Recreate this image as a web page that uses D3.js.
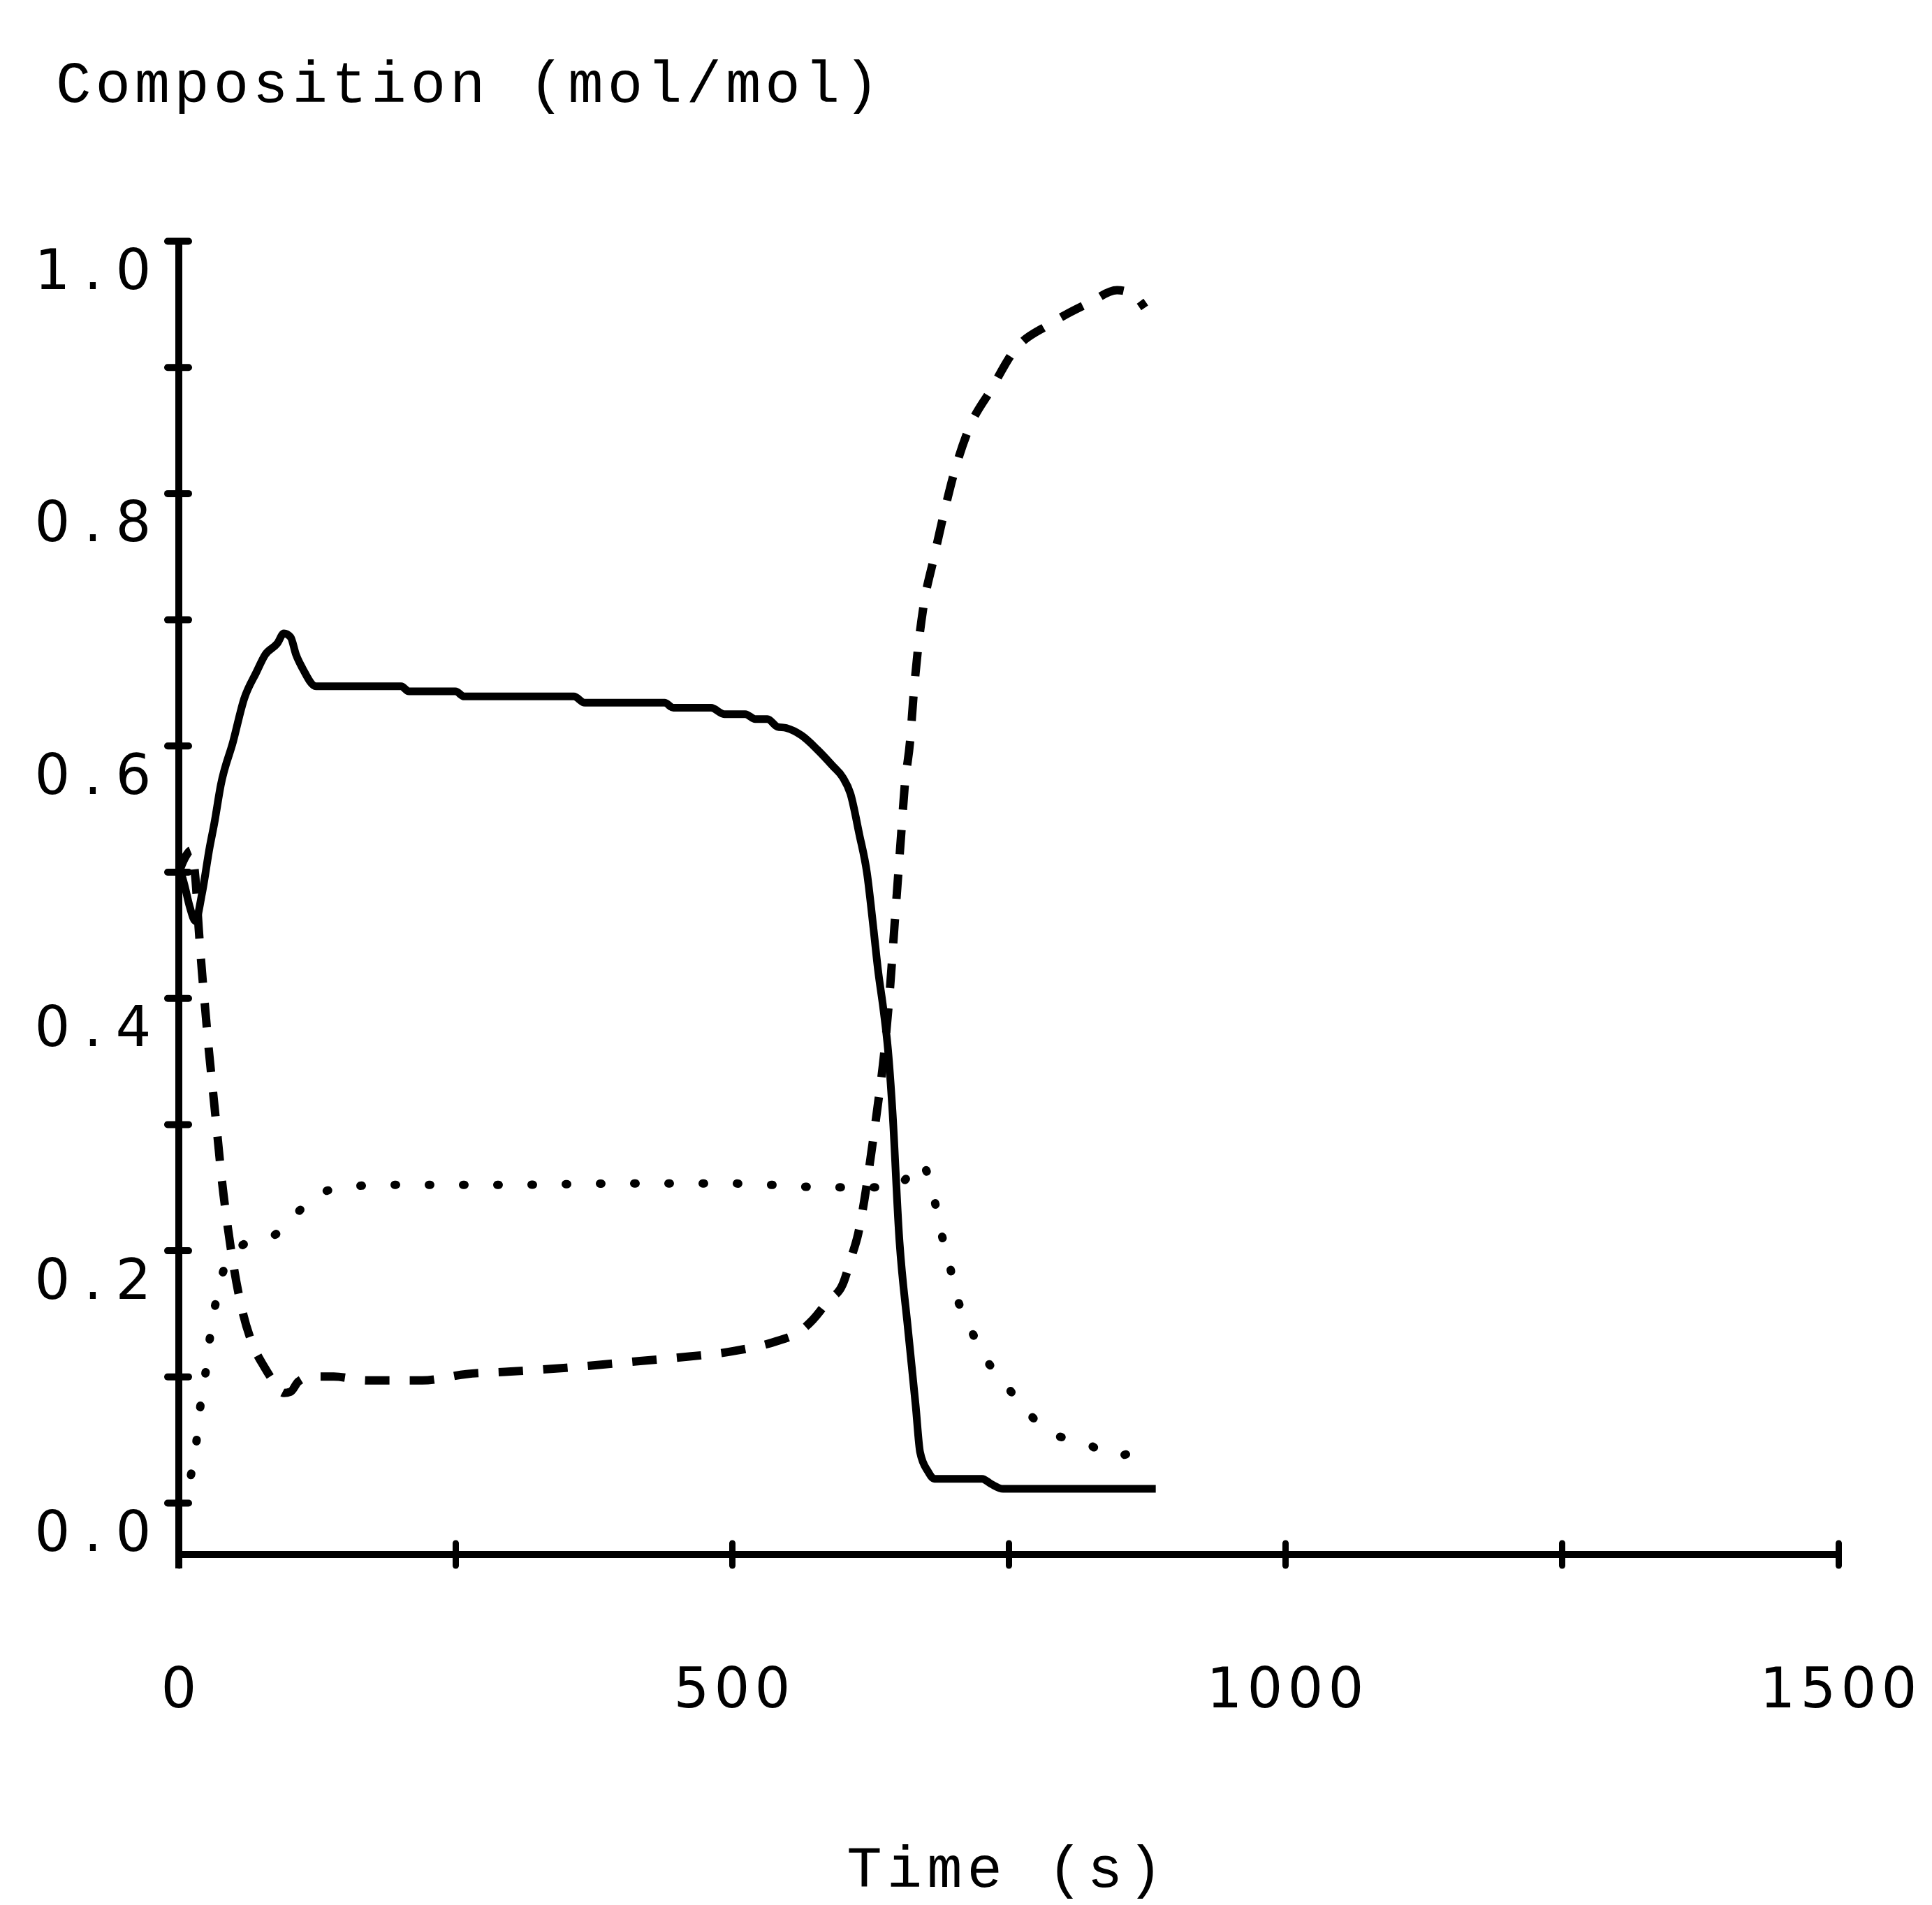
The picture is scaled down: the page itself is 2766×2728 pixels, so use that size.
<!DOCTYPE html>
<html>
<head>
<meta charset="utf-8">
<script src="https://cdn.jsdelivr.net/npm/d3@7/dist/d3.min.js"></script>
<style>
  html, body { margin: 0; padding: 0; background: #fff; }
  svg { display: block; }
  text { fill: #000; }
  .mono { font-family: "Liberation Mono", "DejaVu Sans Mono", monospace; }
  .num { font-family: "DejaVu Sans", "Liberation Sans", sans-serif; }
</style>
</head>
<body>
<svg id="chart" width="2766" height="2728"></svg>
<script>
// ---- Data ----
const yTicks = [0, 0.1, 0.2, 0.3, 0.4, 0.5, 0.6, 0.7, 0.8, 0.9, 1.0];
const yTickLabels = [0, 0.2, 0.4, 0.6, 0.8, 1.0];
const xTicks = [0, 250, 500, 750, 1000, 1250, 1500];
const xTickLabels = [0, 500, 1000, 1500];

// solid line
const solidT = [0, 5, 10, 15, 21, 28, 32, 38, 49, 59, 70, 78, 89, 95, 101, 106, 112, 124, 154, 201, 208, 250, 258, 357, 367, 439, 447, 481, 493, 512, 521, 532, 541, 549, 563, 577, 591, 600, 607, 615, 622, 628, 632, 637, 641, 645, 651, 659, 666, 670, 677, 683, 726, 734, 745, 883];
const solidV = [0.505, 0.49, 0.472, 0.461, 0.483, 0.52, 0.538, 0.569, 0.603, 0.637, 0.658, 0.672, 0.681, 0.689, 0.686, 0.672, 0.661, 0.647, 0.647, 0.647, 0.643, 0.643, 0.639, 0.639, 0.634, 0.634, 0.63, 0.63, 0.625, 0.625, 0.621, 0.621, 0.615, 0.614, 0.608, 0.597, 0.584, 0.575, 0.562, 0.53, 0.499, 0.454, 0.422, 0.39, 0.359, 0.311, 0.212, 0.138, 0.077, 0.04, 0.025, 0.019, 0.019, 0.015, 0.011, 0.011];

// dashed line
const dashedT = [0, 6, 11, 15, 18, 21, 24, 27, 31, 35, 39, 44, 50, 58, 67, 77, 85, 95, 101, 108, 120, 140, 170, 220, 260, 300, 350, 400, 450, 500, 540, 560, 573, 587, 600, 608, 614, 620, 626, 631, 638, 643, 647, 650, 653, 656, 661, 664, 668, 673, 682, 691, 701, 714, 734, 755, 787, 823, 848, 862, 873];
const dashedV = [0.50, 0.512, 0.517, 0.495, 0.455, 0.42, 0.39, 0.36, 0.325, 0.29, 0.255, 0.22, 0.185, 0.15, 0.125, 0.108, 0.097, 0.087, 0.088, 0.096, 0.1, 0.1, 0.097, 0.097, 0.102, 0.104, 0.107, 0.111, 0.115, 0.12, 0.128, 0.135, 0.145, 0.16, 0.173, 0.195, 0.213, 0.242, 0.278, 0.31, 0.36, 0.41, 0.459, 0.495, 0.531, 0.567, 0.604, 0.639, 0.676, 0.71, 0.747, 0.782, 0.817, 0.851, 0.882, 0.913, 0.934, 0.951, 0.961, 0.958, 0.947];

// dotted line
const dottedT = [11, 16, 19.4, 24, 28, 33, 40, 50, 59, 75, 88, 106, 130, 158, 200, 300, 400, 500, 588, 648, 662, 670, 677, 682, 688, 696, 703, 715, 728, 747, 766, 789, 818, 846, 874];
const dottedV = [0.022, 0.049, 0.076, 0.102, 0.13, 0.157, 0.183, 0.198, 0.205, 0.209, 0.213, 0.229, 0.246, 0.251, 0.252, 0.252, 0.253, 0.253, 0.25, 0.25, 0.262, 0.27, 0.26, 0.244, 0.218, 0.191, 0.164, 0.139, 0.116, 0.094, 0.073, 0.055, 0.048, 0.037, 0.045];

const titleText = "Composition (mol/mol)";
const xTitleText = "Time (s)";

// ---- Drawing ----
const svg = d3.select("#chart");
svg.append("rect").attr("width", 2766).attr("height", 2728).attr("fill", "#fff");

const sx = d3.scaleLinear().domain([0, 1500]).range([256, 2632]);
const sy = d3.scaleLinear().domain([0, 1]).range([2152, 345]);
const axisY = 2226;
const numSize = 80;
const cell = 58;   // monospaced cell width for tick labels

// helper: write a label with one character per fixed-width cell
function monoLabel(g, str, centers, y) {
  const t = g.append("text").attr("class", "num").attr("y", y)
    .attr("text-anchor", "middle").style("font-size", numSize + "px");
  str.split("").forEach((ch, i) => {
    t.append("tspan").attr("x", centers[i]).attr("y", y).text(ch);
  });
}

// Y axis via d3.axisLeft, ticks crossing the axis
const gy = svg.append("g").attr("transform", `translate(${sx(0)},0)`)
  .call(d3.axisLeft(sy).tickValues(yTicks).tickSize(18).tickFormat(""));
gy.select(".domain").remove();
gy.selectAll(".tick line").attr("x1", -16).attr("x2", 14)
  .attr("stroke", "#000").attr("stroke-width", 10).attr("stroke-linecap", "round");
svg.append("line").attr("x1", sx(0)).attr("x2", sx(0))
  .attr("y1", sy(1) - 4).attr("y2", axisY + 20)
  .attr("stroke", "#000").attr("stroke-width", 10);

// Y labels (offset below ticks as in the reference)
const gyl = svg.append("g");
yTickLabels.forEach(v => {
  const s = d3.format(".1f")(v);
  const n = s.length;
  const centers = s.split("").map((c, i) => 191 - (n - 1 - i) * cell);
  monoLabel(gyl, s, centers, sy(v) + 69);
});

// X axis
const gx = svg.append("g").attr("transform", `translate(0,${axisY})`)
  .call(d3.axisBottom(sx).tickValues(xTicks).tickSize(18).tickFormat(""));
gx.select(".domain").remove();
gx.selectAll(".tick line").attr("y1", -16).attr("y2", 16)
  .attr("stroke", "#000").attr("stroke-width", 9).attr("stroke-linecap", "round");
svg.append("line").attr("x1", sx(0) - 5).attr("x2", sx(1500))
  .attr("y1", axisY).attr("y2", axisY)
  .attr("stroke", "#000").attr("stroke-width", 10);

const gxl = svg.append("g");
xTickLabels.forEach(v => {
  const s = String(v);
  const n = s.length;
  const centers = s.split("").map((c, i) => sx(v) + (i - (n - 1) / 2) * cell);
  monoLabel(gxl, s, centers, 2445);
});

// Titles
svg.append("text").attr("class", "mono").attr("x", 80).attr("y", 146)
  .style("font-size", "84px").style("letter-spacing", "6px")
  .text(titleText);
svg.append("text").attr("class", "mono").attr("x", 1442).attr("y", 2702)
  .attr("text-anchor", "middle")
  .style("font-size", "84px").style("letter-spacing", "7px")
  .text(xTitleText);

// Curves
const line = d3.line().x(d => sx(d[0])).y(d => sy(d[1])).curve(d3.curveMonotoneX);
const zipped = (a, b) => a.map((t, i) => [t, b[i]]);

svg.append("path").datum(zipped(dottedT, dottedV)).attr("d", line)
  .attr("fill", "none").attr("stroke", "#000").attr("stroke-width", 12)
  .attr("stroke-linecap", "round").attr("stroke-dasharray", "2,47");

svg.append("path").datum(zipped(dashedT, dashedV)).attr("d", line)
  .attr("fill", "none").attr("stroke", "#000").attr("stroke-width", 12)
  .attr("stroke-linecap", "butt").attr("stroke-dasharray", "35,29");

svg.append("path").datum(zipped(solidT, solidV)).attr("d", line)
  .attr("fill", "none").attr("stroke", "#000").attr("stroke-width", 11)
  .attr("stroke-linejoin", "round");
</script>
</body>
</html>
